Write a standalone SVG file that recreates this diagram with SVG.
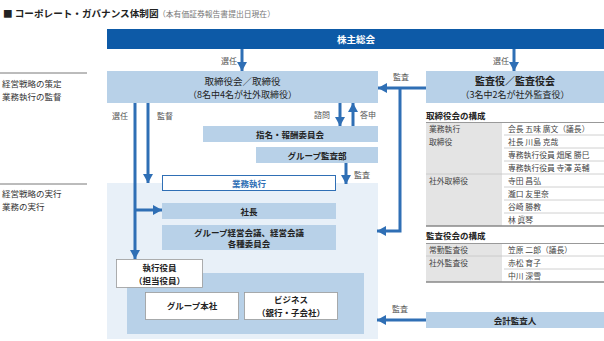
<svg xmlns="http://www.w3.org/2000/svg" width="604" height="341" viewBox="0 0 604 341">
<defs>
<marker id="ah" markerUnits="userSpaceOnUse" markerWidth="11" markerHeight="11" viewBox="0 0 11 11" refX="9" refY="5.5" orient="auto">
<path d="M0,0.5 L9,5.5 L0,10.5 Z" fill="#2f6fb5"/>
</marker>
<style>
text{font-family:"Noto Sans CJK JP","Noto Sans",sans-serif;fill:#333}
.lb{font-size:8px;fill:#555}
.bx{fill:#b8d1e8}
.bt{font-size:8.5px;font-weight:bold;text-anchor:middle;fill:#222}
.tt{font-size:7.8px;fill:#444}
.hd{font-size:8.5px;font-weight:bold;fill:#222}
.cn{fill:none;stroke:#2f6fb5;stroke-width:3}
.rl{stroke:#c4c4c4;stroke-width:0.8}
.gc{fill:#e4e4e4}
</style>
</defs>
<rect width="604" height="341" fill="#fff"/>
<text x="3" y="17" style="font-size:9.6px;font-weight:bold;fill:#222">■ コーポレート・ガバナンス体制図</text>
<text x="158" y="17" style="font-size:7.8px;fill:#777">（本有価証券報告書提出日現在）</text>

<g id="side-labels">
<line x1="0" y1="73" x2="87" y2="73" stroke="#555" stroke-width="0.8"/>
<text x="2" y="87" style="font-size:8.5px;fill:#333">経営戦略の策定</text>
<text x="2" y="100" style="font-size:8.5px;fill:#333">業務執行の監督</text>
<line x1="0" y1="184" x2="87" y2="184" stroke="#555" stroke-width="0.8"/>
<text x="2" y="197" style="font-size:8.5px;fill:#333">経営戦略の実行</text>
<text x="2" y="210" style="font-size:8.5px;fill:#333">業務の実行</text>
</g>

<g id="exec-area">
<rect x="107" y="183" width="271" height="156" fill="#e8f0f8"/>
<rect x="127" y="273" width="237" height="61" fill="#b8d1e8"/>
</g>

<g id="shareholders">
<rect x="107" y="29" width="497" height="20" fill="#0d5aa7"/>
<text x="356" y="43" style="font-size:9.5px;font-weight:bold;fill:#fff;text-anchor:middle">株主総会</text>
</g>

<g id="board">
<rect class="bx" x="107" y="71" width="271" height="32"/>
<text class="bt" x="242.5" y="85" style="font-size:9.5px;font-weight:normal">取締役会／取締役</text>
<text class="bt" x="242.5" y="98" style="font-size:9px;font-weight:normal">（8名中4名が社外取締役）</text>
</g>

<g id="auditors">
<rect class="bx" x="426" y="71" width="178" height="32"/>
<text class="bt" x="515" y="85" style="font-size:10px">監査役／監査役会</text>
<text class="bt" x="515" y="98" style="font-size:9px;font-weight:normal">（3名中2名が社外監査役）</text>
</g>

<g id="nomination">
<rect class="bx" x="203" y="126" width="175" height="16"/>
<text class="bt" x="290" y="137.5">指名・報酬委員会</text>
</g>

<g id="group-audit">
<rect class="bx" x="256" y="147" width="122" height="16"/>
<text class="bt" x="317" y="158.5">グループ監査部</text>
</g>

<g id="business-exec">
<rect x="162.5" y="175.5" width="173" height="15" fill="#fff" stroke="#2f6fb5" stroke-width="1"/>
<text class="bt" x="249" y="186.5" style="fill:#2f6fb5">業務執行</text>
</g>

<g id="president">
<rect class="bx" x="162" y="203" width="174" height="16"/>
<text class="bt" x="249" y="214.5">社長</text>
</g>

<g id="meetings">
<rect class="bx" x="162" y="225" width="174" height="25"/>
<text class="bt" x="249" y="235.5">グループ経営会議、経営会議</text>
<text class="bt" x="249" y="247">各種委員会</text>
</g>

<g id="officers">
<rect x="116.5" y="259.5" width="86" height="28" fill="#fff" stroke="#999" stroke-width="0.8"/>
<text class="bt" x="159.5" y="271">執行役員</text>
<text class="bt" x="159.5" y="283.5">（担当役員）</text>
</g>

<g id="group-hq">
<rect x="145.5" y="292.5" width="93" height="27" fill="#fff" stroke="#999" stroke-width="0.8"/>
<text class="bt" x="192" y="309">グループ本社</text>
</g>

<g id="business">
<rect x="244.5" y="292.5" width="93" height="27" fill="#fff" stroke="#999" stroke-width="0.8"/>
<text class="bt" x="291" y="303">ビジネス</text>
<text class="bt" x="291" y="315.5">（銀行・子会社）</text>
</g>

<g id="accounting-auditor">
<rect class="bx" x="426" y="312" width="178" height="16"/>
<text class="bt" x="515" y="323.5">会計監査人</text>
</g>

<g id="board-composition">
<text class="hd" x="426" y="119">取締役会の構成</text>
<rect class="gc" x="426" y="122" width="76" height="104"/>
<line x1="426" y1="122.5" x2="604" y2="122.5" stroke="#999" stroke-width="1"/>
<line class="rl" x1="504" y1="135" x2="604" y2="135"/>
<line class="rl" x1="504" y1="148" x2="604" y2="148"/>
<line class="rl" x1="504" y1="161" x2="604" y2="161"/>
<line class="rl" x1="426" y1="174" x2="604" y2="174"/>
<line class="rl" x1="504" y1="187" x2="604" y2="187"/>
<line class="rl" x1="504" y1="200" x2="604" y2="200"/>
<line class="rl" x1="504" y1="213" x2="604" y2="213"/>
<line x1="426" y1="226" x2="604" y2="226" stroke="#888" stroke-width="1.5"/>
<text class="tt" x="429" y="132">業務執行</text>
<text class="tt" x="429" y="145">取締役</text>
<text class="tt" x="429" y="184">社外取締役</text>
<text class="tt" x="508" y="132">会長 五味 廣文（議長）</text>
<text class="tt" x="508" y="145">社長 川島 克哉</text>
<text class="tt" x="508" y="158">専務執行役員 畑尾 勝巳</text>
<text class="tt" x="508" y="171">専務執行役員 寺澤 英輔</text>
<text class="tt" x="508" y="184">寺田 昌弘</text>
<text class="tt" x="508" y="197">瀧口 友里奈</text>
<text class="tt" x="508" y="210">谷崎 勝教</text>
<text class="tt" x="508" y="223">林 眞琴</text>
</g>

<g id="auditor-composition">
<text class="hd" x="426" y="239">監査役会の構成</text>
<rect class="gc" x="426" y="243" width="76" height="39"/>
<line x1="426" y1="243.5" x2="604" y2="243.5" stroke="#999" stroke-width="1"/>
<line class="rl" x1="426" y1="256" x2="604" y2="256"/>
<line class="rl" x1="504" y1="269" x2="604" y2="269"/>
<line x1="426" y1="282" x2="604" y2="282" stroke="#888" stroke-width="1.5"/>
<text class="tt" x="429" y="253">常勤監査役</text>
<text class="tt" x="429" y="266">社外監査役</text>
<text class="tt" x="508" y="253">笠原 二郎（議長）</text>
<text class="tt" x="508" y="266">赤松 育子</text>
<text class="tt" x="508" y="279">中川 深雪</text>
</g>

<g id="connectors">
<path class="cn" d="M242,49 V71" marker-end="url(#ah)"/>
<path class="cn" d="M514,49 V71" marker-end="url(#ah)"/>
<path class="cn" d="M426,88 H378" marker-end="url(#ah)"/>
<path class="cn" d="M400,88 V231 H377" marker-end="url(#ah)"/>
<path class="cn" d="M135,103 V259" marker-end="url(#ah)"/>
<path class="cn" d="M135,210 H162" marker-end="url(#ah)"/>
<path class="cn" d="M148,103 V183" marker-end="url(#ah)"/>
<path class="cn" d="M340,103 V126" marker-end="url(#ah)"/>
<path class="cn" d="M353,126 V103" marker-end="url(#ah)"/>
<path class="cn" d="M346,163 V184" marker-end="url(#ah)"/>
<path class="cn" d="M426,320 H377" marker-end="url(#ah)"/>
<text class="lb" x="221" y="64">選任</text>
<text class="lb" x="493" y="64">選任</text>
<text class="lb" x="393" y="80">監査</text>
<text class="lb" x="112" y="119">選任</text>
<text class="lb" x="157" y="119">監督</text>
<text class="lb" x="314" y="118">諮問</text>
<text class="lb" x="360" y="118">答申</text>
<text class="lb" x="354" y="178">監査</text>
<text class="lb" x="392" y="312">監査</text>
</g>
</svg>
